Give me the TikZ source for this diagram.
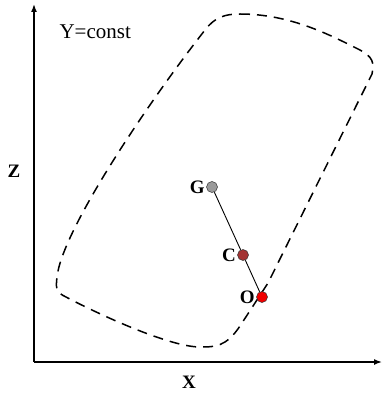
\documentclass[tikz,border=0pt]{standalone}
\usepackage{fontspec}
\setmainfont{Liberation Serif}
\usetikzlibrary{arrows.meta}
\definecolor{pointgray}{HTML}{9A9A9A}
\definecolor{pointbrown}{HTML}{A33434}
\definecolor{pointred}{HTML}{F00000}
\tikzset{
  axis/.style={-{Latex[length=8pt,width=6pt]},line width=1.5pt},
  section/.style={dashed,dash pattern=on 10pt off 7pt,line width=1.5pt},
  point/.style={circle,draw=black!80,fill=#1,line width=0.5pt,inner sep=0pt,minimum size=11pt},
  point/.default=pointgray,
  ptlabel/.style={font=\fontsize{19}{21}\selectfont\bfseries},
  link/.style={line width=0.9pt}
}
\begin{document}
\begin{tikzpicture}[x=1pt,y=-1pt]
\useasboundingbox (0,0) rectangle (383,395);
% axes
\coordinate (origin) at (34,362);
\coordinate (xend) at (382,362);
\coordinate (zend) at (34,4);
\draw[axis] (origin) -- (xend);
\draw[axis] (origin) -- (zend);
\node[ptlabel] (xlab) at (189,382) {X};
\node[ptlabel] (zlab) at (14,171) {Z};
\node[font=\fontsize{21}{23}\selectfont,anchor=west] (title) at (56,32) {Y=const};
% cross-section outline
\draw[section] (240,14) .. controls (290,14) and (330,35) .. (358,49)
  .. controls (374,57) and (374,63) .. (372,74)
  -- (268,283) -- (240,326)
  .. controls (226,347) and (215,347) .. (200,347)
  .. controls (170,347) and (100,315) .. (66,297)
  .. controls (55,292) and (56,287) .. (57,277)
  .. controls (62,230) and (150,100) .. (205,30)
  .. controls (215,17) and (225,14) .. cycle;
% points
\node[point=pointgray,label={[ptlabel,xshift=2pt]left:G}] (G) at (212,187) {};
\node[point=pointbrown,label={[ptlabel,xshift=2pt]left:C}] (C) at (243,255) {};
\node[point=pointred,label={[ptlabel,xshift=2pt]left:O}] (O) at (262,297) {};
\draw[link] (G) -- (C);
\draw[link] (C) -- (O);
\end{tikzpicture}
\end{document}
